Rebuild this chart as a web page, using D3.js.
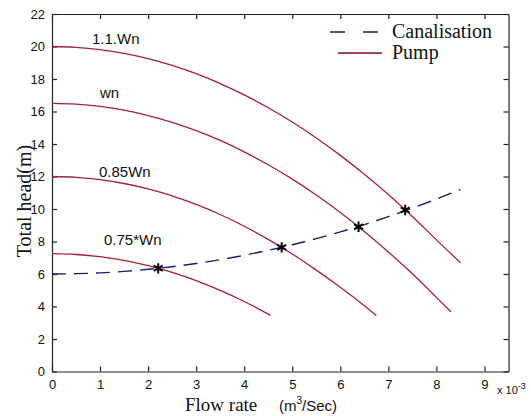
<!DOCTYPE html>
<html>
<head>
<meta charset="utf-8">
<script src="https://cdn.jsdelivr.net/npm/d3@7"></script>
<style>
  body { margin: 0; background: #fff; }
  svg { display: block; }
  .tick text { font-family: "Liberation Sans", Arial, sans-serif; font-size: 13px; fill: #111; }
</style>
</head>
<body>
<svg id="chart" width="531" height="416"></svg>
<script>
// flow rate (x 10^-3 m3/s) and head values
const flow11 = [0, 0.5, 1, 1.5, 2, 2.5, 3, 3.5, 4, 4.5, 5, 5.5, 6, 6.5, 7, 7.5, 8, 8.5];
const head11 = [20.0, 19.95, 19.81, 19.58, 19.26, 18.84, 18.33, 17.72, 17.02, 16.23, 15.35, 14.37, 13.3, 12.14, 10.89, 9.54, 8.1, 6.7];

const flowWn = [0, 0.5, 1, 1.5, 2, 2.5, 3, 3.5, 4, 4.5, 5, 5.5, 6, 6.5, 7, 7.5, 8, 8.3];
const headWn = [16.5, 16.45, 16.31, 16.08, 15.75, 15.33, 14.82, 14.22, 13.52, 12.72, 11.84, 10.86, 9.79, 8.62, 7.36, 6.01, 4.56, 3.68];

const flow085 = [0, 0.5, 1, 1.5, 2, 2.5, 3, 3.5, 4, 4.5, 5, 5.5, 6, 6.5, 6.75];
const head085 = [12.0, 11.95, 11.81, 11.57, 11.24, 10.81, 10.28, 9.66, 8.94, 8.13, 7.23, 6.24, 5.18, 4.05, 3.45];

const flow075 = [0, 0.5, 1, 1.5, 2, 2.5, 3, 3.5, 4, 4.55];
const head075 = [7.25, 7.2, 7.07, 6.84, 6.51, 6.1, 5.59, 4.99, 4.31, 3.45];

const flowCanal = [0, 0.5, 1, 1.5, 2, 2.5, 3, 3.5, 4, 4.5, 5, 5.5, 6, 6.5, 7, 7.5, 8, 8.5];
const headCanal = [6.0, 6.02, 6.07, 6.16, 6.29, 6.45, 6.65, 6.88, 7.15, 7.46, 7.8, 8.18, 8.59, 9.04, 9.53, 10.05, 10.61, 11.2];

// operating points (intersections)
const opFlow = [2.21, 4.78, 6.38, 7.35];
const opHead = [6.35, 7.64, 8.91, 9.94];

const pumpLabels = ["1.1.Wn", "wn", "0.85Wn", "0.75*Wn"];
const xTicks = [0, 1, 2, 3, 4, 5, 6, 7, 8, 9];
const yTicks = [0, 2, 4, 6, 8, 10, 12, 14, 16, 18, 20, 22];

const width = 531;
const height = 416;
const marginTop = 14;
const marginRight = 22.5;
const marginBottom = 44.5;
const marginLeft = 52;

const svg = d3.select("#chart");

const x = d3.scaleLinear()
    .domain([0, 9.5])
    .range([marginLeft, width - marginRight]);

const y = d3.scaleLinear()
    .domain([0, 22])
    .range([height - marginBottom, marginTop]);

const line = d3.line()
    .x(d => x(d[0]))
    .y(d => y(d[1]));

const zip = (a, b) => a.map((v, i) => [v, b[i]]);

// axes, matlab style: box with inward ticks
const axisStyle = g => {
    g.select(".domain").attr("stroke", "#222").attr("stroke-width", 1.2);
    g.selectAll(".tick line").attr("stroke", "#222").attr("stroke-width", 1.2);
};

svg.append("g")
    .attr("transform", `translate(0,${height - marginBottom})`)
    .call(d3.axisBottom(x).tickValues(xTicks).tickSizeInner(-5).tickSizeOuter(0).tickPadding(8))
    .call(axisStyle);

svg.append("g")
    .attr("transform", `translate(0,${marginTop})`)
    .call(d3.axisTop(x).tickValues(xTicks).tickSizeInner(-5).tickSizeOuter(0).tickFormat(""))
    .call(axisStyle);

svg.append("g")
    .attr("transform", `translate(${marginLeft},0)`)
    .call(d3.axisLeft(y).tickValues(yTicks).tickSizeInner(-5).tickSizeOuter(0).tickPadding(7))
    .call(axisStyle);

svg.append("g")
    .attr("transform", `translate(${width - marginRight},0)`)
    .call(d3.axisRight(y).tickValues(yTicks).tickSizeInner(-5).tickSizeOuter(0).tickFormat(""))
    .call(axisStyle);

// pump curves
const pumps = [
    zip(flow11, head11),
    zip(flowWn, headWn),
    zip(flow085, head085),
    zip(flow075, head075)
];

svg.append("g")
    .selectAll("path")
    .data(pumps)
    .join("path")
    .attr("d", line.curve(d3.curveMonotoneX))
    .attr("fill", "none")
    .attr("stroke", "#a3223a")
    .attr("stroke-width", 1.3);

// canalisation curve
svg.append("path")
    .attr("d", line(zip(flowCanal, headCanal)))
    .attr("fill", "none")
    .attr("stroke", "#1c1c6e")
    .attr("stroke-width", 1.4)
    .attr("stroke-dasharray", "14,8");

// operating points
svg.append("g")
    .selectAll("path")
    .data(zip(opFlow, opHead))
    .join("path")
    .attr("transform", d => `translate(${x(d[0])},${y(d[1])})`)
    .attr("d", d3.symbol(d3.symbolAsterisk, 75))
    .attr("fill", "none")
    .attr("stroke", "#000")
    .attr("stroke-width", 2);

// curve labels (left x, baseline y in pixels)
const labelPos = [[92, 44], [100, 98], [99, 177], [104, 245]];
svg.append("g")
    .selectAll("text")
    .data(pumpLabels)
    .join("text")
    .attr("x", (d, i) => labelPos[i][0])
    .attr("y", (d, i) => labelPos[i][1])
    .attr("font-family", "Liberation Sans, Arial, sans-serif")
    .attr("font-size", 15)
    .attr("fill", "#111")
    .text(d => d);

// legend
const legend = svg.append("g")
    .attr("font-family", "Liberation Serif, Times New Roman, serif")
    .attr("font-size", 20)
    .attr("fill", "#111");

legend.append("line")
    .attr("x1", 330).attr("x2", 382).attr("y1", 32).attr("y2", 32)
    .attr("stroke", "#1c1c6e").attr("stroke-width", 1.4)
    .attr("stroke-dasharray", "15,18");
legend.append("text").attr("x", 392).attr("y", 38).text("Canalisation");

legend.append("line")
    .attr("x1", 338).attr("x2", 382).attr("y1", 53).attr("y2", 53)
    .attr("stroke", "#7a1020").attr("stroke-width", 1.3);
legend.append("text").attr("x", 392).attr("y", 59).text("Pump");

// axis titles
svg.append("text")
    .attr("transform", "translate(31,201) rotate(-90)")
    .attr("text-anchor", "middle")
    .attr("font-family", "Liberation Serif, Times New Roman, serif")
    .attr("font-size", 20)
    .attr("fill", "#111")
    .text("Total head(m)");

svg.append("text")
    .attr("x", 185)
    .attr("y", 411)
    .attr("font-family", "Liberation Serif, Times New Roman, serif")
    .attr("font-size", 19)
    .attr("fill", "#111")
    .text("Flow rate");

const unit = svg.append("text")
    .attr("x", 279)
    .attr("y", 411)
    .attr("font-family", "Liberation Sans, Arial, sans-serif")
    .attr("font-size", 15)
    .attr("fill", "#111");
unit.append("tspan").text("(m");
unit.append("tspan").attr("font-size", 10).attr("dy", -7).text("3");
unit.append("tspan").attr("dy", 7).text("/Sec)");

// exponent label
const expo = svg.append("text")
    .attr("x", 497)
    .attr("y", 394)
    .attr("font-family", "Liberation Sans, Arial, sans-serif")
    .attr("font-size", 11)
    .attr("fill", "#111");
expo.append("tspan").text("x 10");
expo.append("tspan").attr("font-size", 9).attr("dy", -5).text("-3");
</script>
</body>
</html>
